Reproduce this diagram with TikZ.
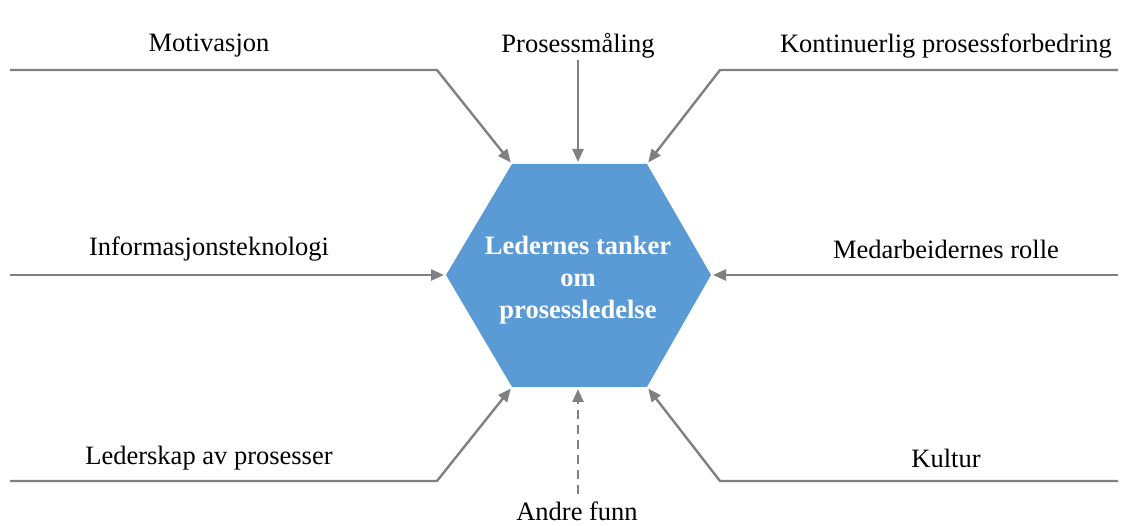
\documentclass[tikz,border=0pt]{standalone}
\usepackage{fontspec}
\setmainfont{Liberation Serif}
\usetikzlibrary{arrows.meta}
\definecolor{hexblue}{HTML}{5B9BD5}
\definecolor{linegray}{HTML}{808080}
\tikzset{
  label/.style={font=\fontsize{26.5}{30}\selectfont, inner sep=0pt},
  feed/.style={draw=linegray, line width=2.4pt,
    -{Triangle[length=13pt,width=11pt]}, shorten >=2pt},
  feeddash/.style={feed, dash pattern=on 9pt off 6pt}
}
\begin{document}
\begin{tikzpicture}[x=1pt,y=-1pt]
\useasboundingbox (0,0) rectangle (1138,526);
% central hexagon
\coordinate (tl) at (512,164);
\coordinate (tr) at (647,164);
\coordinate (r)  at (711,275);
\coordinate (br) at (647,387);
\coordinate (bl) at (512,387);
\coordinate (l)  at (446,275);
\coordinate (tm) at (578,164);
\coordinate (bm) at (578,387);
\fill[hexblue] (tl) -- (tr) -- (r) -- (br) -- (bl) -- (l) -- cycle;
\node[font=\bfseries\fontsize{26.5}{32}\selectfont, text=white, align=center, inner sep=0pt]
  (core) at (578,280) {Ledernes tanker\\om\\prosessledelse};
% labels
\node[label] (motiv) at (209,46) {Motivasjon};
\node[label] (maal) at (578,46) {Prosessmåling};
\node[label] (kont) at (946,46) {Kontinuerlig prosessforbedring};
\node[label] (it) at (209,249) {Informasjonsteknologi};
\node[label] (medarb) at (946,249) {Medarbeidernes rolle};
\node[label] (leder) at (209,458) {Lederskap av prosesser};
\node[label] (kultur) at (946,458) {Kultur};
\node[label] (andre) at (577,511) {Andre funn};
% connector start and bend points
\coordinate (m0) at (10,70);   \coordinate (m1) at (437,70);
\coordinate (k0) at (1118,70); \coordinate (k1) at (720,70);
\coordinate (i0) at (10,275);
\coordinate (e0) at (1118,275);
\coordinate (l0) at (10,481);  \coordinate (l1) at (437,481);
\coordinate (c0) at (1118,481);\coordinate (c1) at (720,481);
\coordinate (p0) at (578,60);
\coordinate (a0) at (578,494);
% connectors
\draw[feed] (m0) -- (m1) -- (tl);
\draw[feed] (p0) -- (tm);
\draw[feed] (k0) -- (k1) -- (tr);
\draw[feed] (i0) -- (l);
\draw[feed] (e0) -- (r);
\draw[feed] (l0) -- (l1) -- (bl);
\draw[feed] (c0) -- (c1) -- (br);
\draw[feeddash] (a0) -- (bm);
\end{tikzpicture}
\end{document}
